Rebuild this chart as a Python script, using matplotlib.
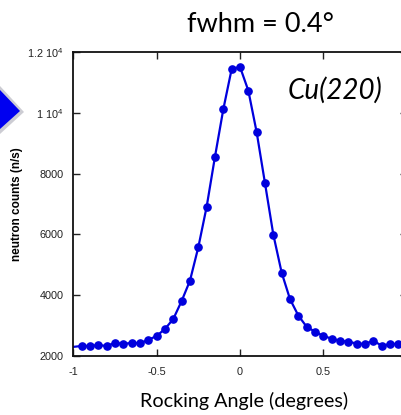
import matplotlib
matplotlib.use("Agg")
import matplotlib.pyplot as plt
from matplotlib.patches import Polygon
from matplotlib.ticker import FixedLocator, FixedFormatter

plt.rcParams['mathtext.fontset'] = 'custom'
plt.rcParams['mathtext.rm'] = 'Liberation Sans'
plt.rcParams['mathtext.it'] = 'Liberation Sans:italic'

# Rocking curve of the Cu(220) monochromator
angle = [-1.00, -0.95, -0.90, -0.85, -0.80, -0.75, -0.70, -0.65, -0.60, -0.55,
         -0.50, -0.45, -0.40, -0.35, -0.30, -0.25, -0.20, -0.15, -0.10, -0.05,
         0.00, 0.05, 0.10, 0.15, 0.20, 0.25, 0.30, 0.35, 0.40, 0.45,
         0.50, 0.55, 0.60, 0.65, 0.70, 0.75, 0.80, 0.85, 0.90, 0.95, 1.00]
counts = [2300, 2330, 2330, 2360, 2330, 2430, 2400, 2430, 2420, 2530,
          2660, 2890, 3220, 3810, 4480, 5580, 6910, 8560, 10120, 11440,
          11510, 10730, 9360, 7680, 5990, 4740, 3870, 3330, 2960, 2800,
          2660, 2570, 2500, 2470, 2410, 2400, 2500, 2340, 2390, 2400, 2420]

x_ticks = [-1, -0.5, 0, 0.5]
x_tick_labels = ['-1', '-0.5', '0', '0.5']
y_ticks = [2000, 4000, 6000, 8000, 10000, 12000]
y_tick_labels = ['2000', '4000', '6000', '8000',
                 r'$\mathregular{1\ 10^{4}}$', r'$\mathregular{1.2\ 10^{4}}$']

W, H = 402, 415
fig = plt.figure(figsize=(W / 100, H / 100), dpi=100)
ax = fig.add_axes([73.3 / W, 1 - 356 / H, 333.4 / W, 304 / H])

# markers on the interior scan points; the line runs to both axis ends
ax.plot(angle, counts, color='#0000dd', lw=1.6, marker='o', ms=5.2,
        mec='#0000dd', mfc='#0000dd', markevery=slice(1, -1))

ax.set_xlim(-1, 1)
ax.set_ylim(2000, 12000)
ax.xaxis.set_major_locator(FixedLocator(x_ticks))
ax.xaxis.set_major_formatter(FixedFormatter(x_tick_labels))
ax.yaxis.set_major_locator(FixedLocator(y_ticks))
ax.yaxis.set_major_formatter(FixedFormatter(y_tick_labels))
ax.tick_params(direction='in', length=5, width=1, top=True, right=True,
               labelsize=7.8, colors='#222222')
ax.tick_params(axis='y', pad=7)
ax.tick_params(axis='x', pad=8)
for lab in ax.get_xticklabels() + ax.get_yticklabels():
    lab.set_family('Liberation Sans')
for s in ax.spines.values():
    s.set_linewidth(1.3)
    s.set_color('#111111')

ax.set_ylabel('neutron counts (n/s)', fontsize=8.5, fontweight='bold',
              family='Liberation Sans')
ax.yaxis.set_label_coords(-0.15, 0.5)

ax.text(0.785, 0.875, 'Cu(220)', transform=ax.transAxes, fontsize=20,
        style='italic', family='Lato', ha='center', va='center')

fig.text(261 / W, 1 - 24 / H, 'fwhm = 0.4°', fontsize=19.5, family='Lato',
         ha='center', va='center')
fig.text(244 / W, 1 - 401 / H, 'Rocking Angle (degrees)', fontsize=14.2,
         family='Lato', ha='center', va='center')

# blue pointer arrow on the left edge, with a soft shadow
shadow = Polygon([(0 / W, 1 - 86 / H), (24 / W, 1 - 112 / H), (0 / W, 1 - 134 / H)],
                 closed=True, transform=fig.transFigure, fc='#9a9aa8', ec='none',
                 alpha=0.5)
arrow = Polygon([(0 / W, 1 - 90 / H), (20 / W, 1 - 111 / H), (0 / W, 1 - 129 / H)],
                closed=True, transform=fig.transFigure, fc='#0000f0', ec='none')
fig.patches.extend([shadow, arrow])

fig.savefig('out.png', dpi=100)
